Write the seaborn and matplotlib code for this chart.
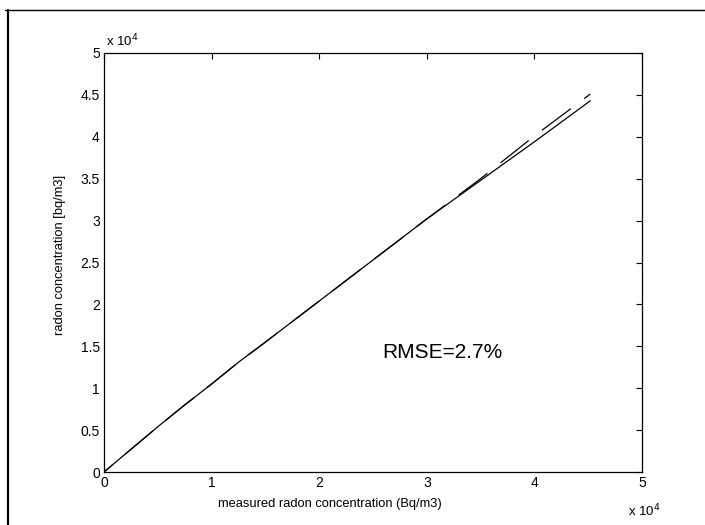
import numpy as np
import pandas as pd
import matplotlib
matplotlib.use("Agg")
import matplotlib.pyplot as plt
from matplotlib.lines import Line2D
from matplotlib.ticker import FixedLocator, FuncFormatter
import seaborn as sns

# measured radon concentration (Bq/m3)
measured = [0, 2500, 5000, 7500, 10000, 12500, 15000, 20000, 25000, 30000, 35000, 40000, 45200]
# modelled concentration, solid curve
model_solid = [0, 2700, 5400, 8000, 10500, 13100, 15500, 20400, 25300, 30200, 34800, 39400, 44300]
# modelled concentration, dashed curve
model_dashed = [0, 2700, 5400, 8000, 10500, 13100, 15500, 20400, 25300, 30200, 35000, 40100, 45100]

tick_values = [0, 5000, 10000, 15000, 20000, 25000, 30000, 35000, 40000, 45000, 50000]
x_tick_values = [0, 10000, 20000, 30000, 40000, 50000]
rmse_label = "RMSE=2.7%"

sns.set_theme(style="white")
plt.rcParams["font.family"] = ["Liberation Sans", "DejaVu Sans"]
plt.rcParams["lines.scale_dashes"] = False

fig = plt.figure(figsize=(7.05, 5.25), dpi=100)
ax = fig.add_axes([104 / 705, 53 / 525, 538 / 705, 419 / 525])

df = pd.DataFrame({"measured": measured, "solid": model_solid, "dashed": model_dashed})
sns.lineplot(data=df, x="measured", y="dashed", ax=ax, color="black", lw=0.9)
sns.lineplot(data=df, x="measured", y="solid", ax=ax, color="black", lw=0.9)
ax.lines[0].set_linestyle((18, (26, 12)))

ax.set_xlim(0, 50000)
ax.set_ylim(0, 50000)
ax.xaxis.set_major_locator(FixedLocator(x_tick_values))
ax.yaxis.set_major_locator(FixedLocator(tick_values))
fmt = FuncFormatter(lambda v, p: f"{v / 1e4:g}")
ax.xaxis.set_major_formatter(fmt)
ax.yaxis.set_major_formatter(fmt)
ax.tick_params(direction="in", length=4.5, width=0.8, colors="black", labelsize=10,
               top=True, right=True, pad=3)
for s in ax.spines.values():
    s.set_color("black")
    s.set_linewidth(0.9)

ax.set_xlabel("")
ax.set_ylabel("")
fig.text(218 / 705, 1 - 504 / 525, "measured radon concentration (Bq/m3)",
         ha="left", va="center", fontsize=9.3, color="black")
fig.text(60 / 705, 1 - 255 / 525, "radon concentration [bq/m3]",
         ha="center", va="center", rotation=90, fontsize=9.3, color="black")
fig.text(106 / 705, 1 - 41 / 525, r"x 10$^4$", ha="left", va="center",
         fontsize=9.5, color="black")
fig.text(628 / 705, 1 - 511 / 525, r"x 10$^4$", ha="left", va="center",
         fontsize=9.5, color="black")

ax.text(25900, 14300, rmse_label, ha="left", va="center", fontsize=15, color="black")

# page frame
fig.add_artist(Line2D([5 / 705, 1.0], [1 - 10 / 525, 1 - 10 / 525],
                      transform=fig.transFigure, color="black", lw=1.0))
fig.add_artist(Line2D([8 / 705, 8 / 705], [0.0, 1 - 10 / 525],
                      transform=fig.transFigure, color="black", lw=1.6))

fig.savefig("out.png", dpi=100, facecolor="white")
